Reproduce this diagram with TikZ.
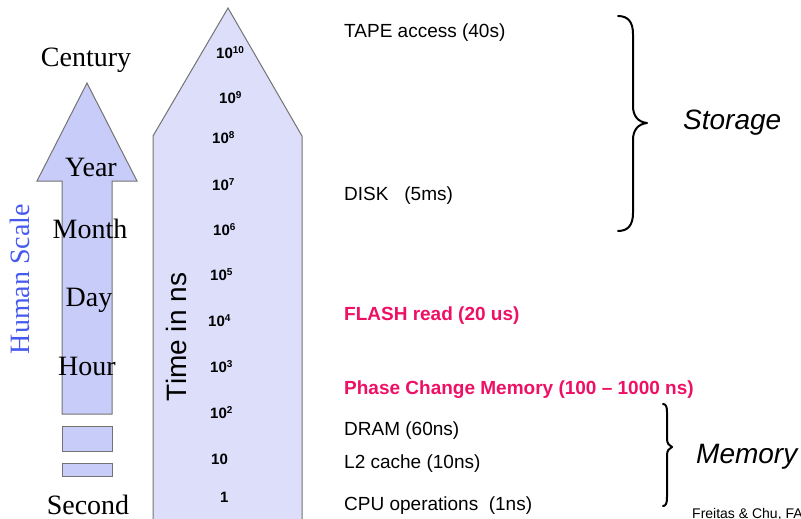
\documentclass[tikz,border=0pt]{standalone}
\usepackage{fontspec}
\setmainfont{Liberation Serif}
\setsansfont{Liberation Sans}
\definecolor{arrowA}{RGB}{200,204,248}
\definecolor{arrowB}{RGB}{220,222,250}
\definecolor{hotpink}{RGB}{238,16,100}
\definecolor{humanblue}{RGB}{70,90,240}
\newcommand\tenpow[1]{10\raisebox{0.33em}{\fontsize{10}{10}\selectfont #1}}
\tikzset{
  scalelbl/.style={font=\fontsize{28}{28}\selectfont\rmfamily, inner sep=0pt},
  pow/.style={font=\fontsize{15}{15}\selectfont\sffamily\bfseries, inner sep=0pt, anchor=west},
  item/.style={font=\fontsize{19}{19}\selectfont\sffamily, anchor=west, inner sep=0pt},
  hot/.style={item, font=\fontsize{19}{19}\selectfont\sffamily\bfseries, text=hotpink},
  bracelbl/.style={font=\fontsize{28}{28}\selectfont\sffamily\itshape, inner sep=0pt},
  bracestroke/.style={line width=2pt, line cap=round, line join=round},
  shapestroke/.style={draw=black!55, line width=1pt}
}
\begin{document}
\begin{tikzpicture}[x=1pt,y=-1pt]
\useasboundingbox (0,0) rectangle (801,519);
% big arrow
\path[shapestroke, fill=arrowB] (153,530) -- (153,136) -- (228,8) -- (302,136) -- (302,530);
% left arrow
\path[shapestroke, fill=arrowA] (62,414) -- (62,181) -- (37,181) -- (87,83) -- (137,181) -- (112,181) -- (112,414) -- cycle;
\path[shapestroke, fill=arrowA] (62,426) rectangle (112,451);
\path[shapestroke, fill=arrowA] (62,463) rectangle (112,476);
% human scale labels
\node[scalelbl] (century) at (86,60) {Century};
\node[scalelbl] (year) at (91,167) {Year};
\node[scalelbl] (month) at (90,229) {Month};
\node[scalelbl] (day) at (89,300) {Day};
\node[scalelbl] (hour) at (87,366) {Hour};
\node[scalelbl] (second) at (88,505) {Second};
\node[scalelbl, text=humanblue, rotate=90] (human) at (20,279) {Human Scale};
\node[font=\fontsize{28}{28}\selectfont\sffamily, inner sep=0pt, rotate=90] (timens) at (176,337) {Time in ns};
% powers
\node[pow] (p10) at (216,53) {\tenpow{10}};
\node[pow] (p9) at (219,98) {\tenpow{9}};
\node[pow] (p8) at (212,138) {\tenpow{8}};
\node[pow] (p7) at (212,185) {\tenpow{7}};
\node[pow] (p6) at (213,230) {\tenpow{6}};
\node[pow] (p5) at (210,275) {\tenpow{5}};
\node[pow] (p4) at (208,321) {\tenpow{4}};
\node[pow] (p3) at (210,367) {\tenpow{3}};
\node[pow] (p2) at (210,413) {\tenpow{2}};
\node[pow] (p1) at (211,459) {10};
\node[pow] (p0) at (220,497) {1};
% items
\node[item] (tape) at (344,33) {TAPE access (40s)};
\node[item] (disk) at (344,196) {DISK\ \ \ (5ms)};
\node[hot] (flash) at (344,316) {FLASH read (20 us)};
\node[hot] (pcm) at (344,390) {Phase Change Memory (100 – 1000 ns)};
\node[item] (dram) at (344,431) {DRAM (60ns)};
\node[item] (l2) at (344,464) {L2 cache (10ns)};
\node[item] (cpu) at (344,506) {CPU operations\ \ (1ns)};
% storage brace
\draw[bracestroke] (618,16) .. controls (628,16) and (633,22) .. (633,34)
  -- (633,106) .. controls (633,116) and (638,122) .. (647,123)
  .. controls (638,124) and (633,130) .. (633,140)
  -- (633,213) .. controls (633,225) and (628,231) .. (618,231);
\node[bracelbl, anchor=west] (storage) at (683,123) {Storage};
% memory brace
\draw[bracestroke] (663,404) .. controls (666,404) and (667,407) .. (667,412)
  -- (667,439) .. controls (667,443) and (669,446) .. (672,447)
  .. controls (669,448) and (667,451) .. (667,455)
  -- (667,497) .. controls (667,503) and (666,506) .. (663,506);
\node[bracelbl, anchor=west] (memory) at (696,457) {Memory};
\node[font=\fontsize{14}{14}\selectfont\sffamily, anchor=west, inner sep=0pt] (cite) at (692,514) {Freitas \& Chu, FAST};
\end{tikzpicture}
\end{document}
